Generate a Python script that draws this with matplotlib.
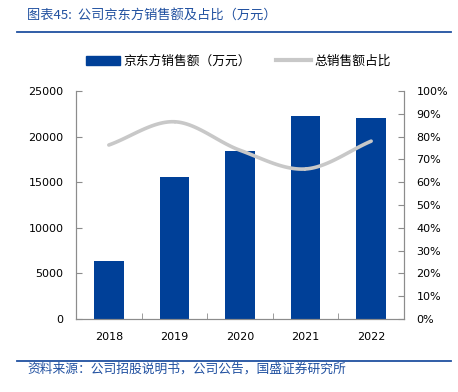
import numpy as np
import matplotlib
matplotlib.use('Agg')
import matplotlib.pyplot as plt
from matplotlib.lines import Line2D
from matplotlib.patches import Patch
from matplotlib.ticker import PercentFormatter

years = ['2018', '2019', '2020', '2021', '2022']
sales = [6400, 15600, 18400, 22300, 22000]   # 万元
share = [76.3, 86.5, 74.0, 65.8, 78.0]       # %

bar_color = '#004098'
line_color = '#C8C8C8'
title_color = '#2050A0'
axis_color = '#8C8C8C'
cjk = ['Noto Sans CJK SC', 'DejaVu Sans']


def catmull_rom(x, y, n=30):
    # smoothed line like the spreadsheet's "smooth line" option
    x = np.asarray(x, float)
    y = np.asarray(y, float)
    px = np.concatenate([[2 * x[0] - x[1]], x, [2 * x[-1] - x[-2]]])
    py = np.concatenate([[2 * y[0] - y[1]], y, [2 * y[-1] - y[-2]]])
    xs, ys = [], []
    t = np.linspace(0, 1, n)
    for i in range(1, len(px) - 2):
        for p, out in ((px, xs), (py, ys)):
            p0, p1, p2, p3 = p[i - 1], p[i], p[i + 1], p[i + 2]
            out.extend(0.5 * ((2 * p1) + (-p0 + p2) * t
                              + (2 * p0 - 5 * p1 + 4 * p2 - p3) * t ** 2
                              + (-p0 + 3 * p1 - 3 * p2 + p3) * t ** 3))
    return np.array(xs), np.array(ys)


fig = plt.figure(figsize=(4.58, 3.92), dpi=100)
ax = fig.add_axes([0.166, 0.186, 0.716, 0.582])
ax2 = ax.twinx()

x = np.arange(len(years))
ax.bar(x, sales, width=0.45, color=bar_color, zorder=2)
ax.set_xlim(-0.5, len(years) - 0.5)
ax.set_ylim(0, 25000)
ax.set_yticks(np.arange(0, 25001, 5000))
ax.set_xticks(x)
ax.set_xticklabels(years)
ax.set_xticks(np.arange(0.5, len(years) - 1, 1), minor=True)

sx, sy = catmull_rom(x, share)
ax2.plot(sx, sy, color=line_color, lw=2.6, solid_capstyle='round', zorder=3)
ax2.set_ylim(0, 100)
ax2.set_yticks(np.arange(0, 101, 10))
ax2.yaxis.set_major_formatter(PercentFormatter(decimals=0))

for a in (ax, ax2):
    for s in a.spines.values():
        s.set_color(axis_color)
        s.set_linewidth(0.8)
    a.spines['top'].set_visible(False)
ax.tick_params(axis='y', direction='in', length=4, color=axis_color, labelsize=8, pad=9)
ax.tick_params(axis='x', which='major', length=0, labelsize=8, pad=9)
ax.tick_params(axis='x', which='minor', direction='in', length=4, color=axis_color)
ax2.tick_params(axis='y', direction='in', length=4, color=axis_color, labelsize=8, pad=9)

# legend
handles = [Patch(color=bar_color), Line2D([], [], color=line_color, lw=3)]
fig.legend(handles, ['京东方销售额（万元）', '总销售额占比'], loc='center',
           bbox_to_anchor=(0.52, 1 - 61 / 392), ncol=2, frameon=False,
           prop={'family': cjk, 'size': 9.2}, handlelength=2.7,
           handletextpad=0.25, columnspacing=2.0)

# header and footer
fig.text(27 / 458, 1 - 16 / 392, '图表45:  公司京东方销售额及占比（万元）', family=cjk,
         fontsize=9.5, color=title_color, va='center', ha='left')
fig.add_artist(Line2D([17 / 458, 451 / 458], [1 - 32 / 392] * 2, color=title_color, lw=1.3))
fig.add_artist(Line2D([17 / 458, 451 / 458], [1 - 361 / 392] * 2, color=title_color, lw=1.3))
fig.text(27 / 458, 1 - 369 / 392, '资料来源：公司招股说明书，公司公告，国盛证券研究所', family=cjk,
         fontsize=9.2, color=title_color, va='center', ha='left')

fig.savefig('out.png', dpi=100)
